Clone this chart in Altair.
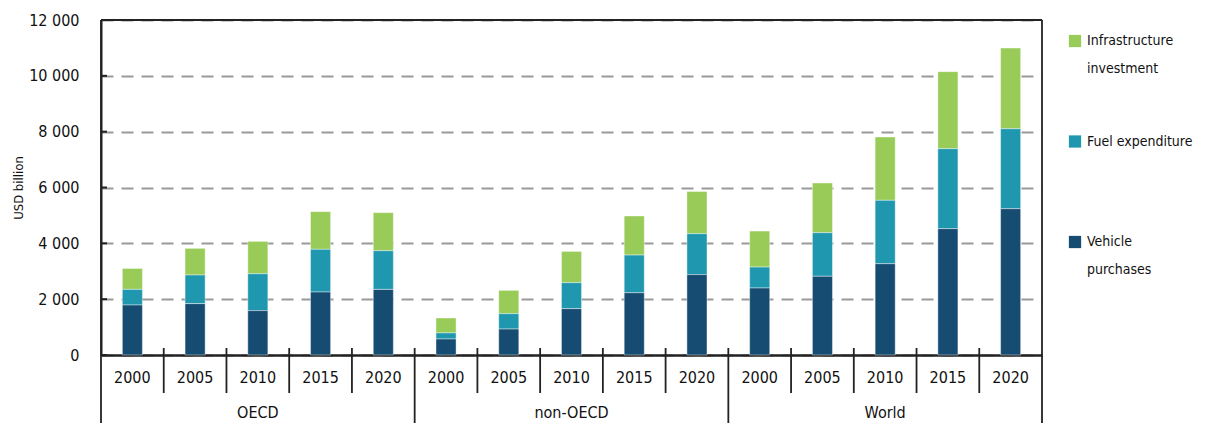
import altair as alt
import pandas as pd

groups = ["OECD", "non-OECD", "World"]
years = ["2000", "2005", "2010", "2015", "2020"]
series = ["Infrastructure investment", "Fuel expenditure", "Vehicle purchases"]
legend_labels = ["Infrastructure|investment", "Fuel  expenditure", "Vehicle|purchases"]
colors = ["#98cb57", "#1f97ae", "#164c72"]
y_ticks = [0, 2000, 4000, 6000, 8000, 10000, 12000]

vehicle = [1790, 1840, 1590, 2255, 2350, 573, 930, 1660, 2230, 2880, 2400, 2820, 3270, 4525, 5240]
fuel = [560, 1025, 1320, 1530, 1385, 217, 550, 930, 1350, 1465, 750, 1560, 2270, 2865, 2865]
infra = [750, 955, 1160, 1350, 1365, 535, 835, 1120, 1400, 1515, 1290, 1780, 2270, 2760, 2890]

FONT = "DejaVu Sans Condensed, DejaVu Sans, sans-serif"
TXT = "#111"

keys = [f"{g}|{y}" for g in groups for y in years]
rows = []
for i, k in enumerate(keys):
    for s, vals, o in zip(series, [infra, fuel, vehicle], [3, 2, 1]):
        rows.append({"key": k, "series": s, "value": vals[i], "order": o})
df = pd.DataFrame(rows)

W, H = 941, 335

color_scale = alt.Scale(domain=series, range=colors)
y_scale = alt.Scale(domain=[0, 12000], nice=False)

bars = alt.Chart(df).mark_bar(stroke="white", strokeWidth=0.6, strokeOpacity=0.7).encode(
    x=alt.X("key:N", sort=keys,
            scale=alt.Scale(paddingInner=0.68, paddingOuter=0.34),
            axis=alt.Axis(title=None, labelExpr="split(datum.label, '|')[1]",
                          labelAngle=0, labelFont=FONT, labelFontSize=16, labelColor=TXT,
                          labelBaseline="top", labelPadding=14, ticks=False, tickSize=0,
                          domainColor="#222", domainWidth=2.5, grid=False)),
    y=alt.Y("value:Q", stack="zero", scale=y_scale,
            axis=alt.Axis(title="USD billion", values=y_ticks,
                          labelExpr="replace(format(datum.value, ',d'), ',', ' ')",
                          labelFont=FONT, labelFontSize=16, labelColor=TXT,
                          ticks=False, tickSize=0, labelPadding=22,
                          titleFont=FONT, titleFontSize=13, titleFontWeight="normal",
                          titleColor=TXT, titleAngle=-90, titleX=-83, titleY=H / 2,
                          titleAlign="center", titleBaseline="middle",
                          domainColor="#222", domainWidth=2,
                          grid=True, gridDash=[12, 8], gridColor="#9a9a9a", gridWidth=2)),
    color=alt.Color("series:N", scale=color_scale, legend=None),
    order=alt.Order("order:Q"),
)

# short inward ticks on the value axis
tdf = pd.DataFrame({"v": y_ticks})
yticks = alt.Chart(tdf).mark_rule(color="#222", strokeWidth=2).encode(
    x=alt.value(0), x2=alt.value(6), y=alt.Y("v:Q", scale=y_scale, axis=None))

# divider lines between categories
bpos = list(range(0, 16))
btype = ["edge" if b in (0, 15) else ("group" if b % 5 == 0 else "tick") for b in bpos]
bdf = pd.DataFrame({"pos": bpos, "type": btype})
bdf["y0"] = bdf["type"].map({"edge": 0, "group": 328, "tick": 328})
bdf["y1"] = bdf["type"].map({"edge": 420, "group": 420, "tick": 373})

xq = alt.X("pos:Q", scale=alt.Scale(domain=[0, 15], nice=False, zero=False), axis=None)
rules = alt.Chart(bdf).mark_rule(color="#222", strokeWidth=1.8).encode(
    x=xq, y=alt.Y("y0:Q", scale=None), y2="y1:Q")

gdf = pd.DataFrame({"pos": [2.5, 7.5, 12.5], "label": groups})
glabels = alt.Chart(gdf).mark_text(font=FONT, fontSize=16, color=TXT, baseline="middle").encode(
    x=xq, y=alt.value(393), text="label:N")

top = alt.Chart(pd.DataFrame({"a": [0], "b": [15]})).mark_rule(color="#222", strokeWidth=2).encode(
    x=alt.X("a:Q", scale=alt.Scale(domain=[0, 15], nice=False, zero=False), axis=None),
    x2="b:Q", y=alt.value(0))

# legend (built from the series list)
ldf = pd.DataFrame({"series": series, "label": legend_labels})
ly = alt.Y("series:N", scale=alt.Scale(type="point", domain=series, range=[21, 222], padding=0), axis=None)
lsym = alt.Chart(ldf).mark_square(size=150, opacity=1).encode(
    x=alt.value(974), y=ly, color=alt.Color("series:N", scale=color_scale, legend=None))
ltxt = alt.Chart(ldf).mark_text(font=FONT, fontSize=14, color=TXT, align="left",
                                baseline="top", dy=-7, lineBreak="|", lineHeight=28).encode(
    x=alt.value(986), y=ly, text="label:N")

legend = alt.layer(lsym, ltxt)

chart = alt.layer(bars, yticks, rules, glabels, top, legend).resolve_scale(x="independent", y="independent").properties(
    width=W, height=H,
    autosize=alt.AutoSizeParams(type="none"),
    padding={"left": 93, "top": 12, "right": 160, "bottom": 68},
).configure_view(stroke=None)

chart.save("out.html", embed_options={"renderer": "svg", "actions": False})
